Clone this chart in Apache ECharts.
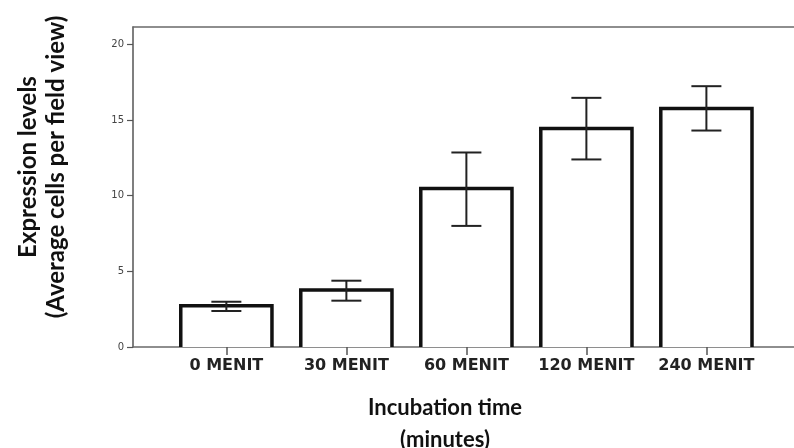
<!DOCTYPE html>
<html><head><meta charset="utf-8">
<script src="https://cdn.jsdelivr.net/npm/echarts@6/dist/echarts.min.js"></script>
<style>html,body{margin:0;padding:0;background:#fff}#c{width:794px;height:448px}</style>
</head><body><div id="c"></div>
<script>
const categories = ['0 MENIT', '30 MENIT', '60 MENIT', '120 MENIT', '240 MENIT'];
const means = [2.73, 3.76, 10.47, 14.43, 15.75];
const errLow = [2.38, 3.06, 8.0, 12.39, 14.30];
const errHigh = [2.99, 4.38, 12.85, 16.46, 17.23];
const yTicks = [0, 5, 10, 15, 20];
const yTitle = 'Expression levels\n(Average cells per field view)';
const xTitle = 'Incubation time\n(minutes)';

const chart = echarts.init(document.getElementById('c'), null, { renderer: 'canvas' });
const catIdx = categories.map((_, i) => i);

const option = {
  animation: false,
  backgroundColor: '#fff',
  grid: { left: 133, right: 0, top: 27, bottom: 101 },
  xAxis: [{
    type: 'value', min: -0.778, max: 4.73,
    axisLine: { show: true, onZero: false, lineStyle: { color: '#6a6a6a', width: 1.5 } },
    axisTick: { show: true, customValues: catIdx, length: 8, lineStyle: { color: '#555', width: 1.5 } },
    axisLabel: { customValues: catIdx, margin: 11, formatter: v => categories[Math.round(v)],
      fontFamily: 'DejaVu Sans', fontWeight: 'bold', fontSize: 16, color: '#222' },
    splitLine: { show: false }
  }, {
    type: 'value', position: 'top', min: -0.778, max: 4.73,
    axisLine: { show: true, onZero: false, lineStyle: { color: '#6a6a6a', width: 1.5 } },
    axisTick: { show: false }, axisLabel: { show: false }, splitLine: { show: false }
  }],
  yAxis: {
    type: 'value', min: 0, max: 21.14,
    axisLine: { show: true, onZero: false, lineStyle: { color: '#555', width: 1.5 } },
    axisTick: { show: true, customValues: yTicks, length: 6, lineStyle: { color: '#555', width: 1.2 } },
    axisLabel: { customValues: yTicks, margin: 9, fontFamily: 'DejaVu Sans', fontSize: 10, color: '#444' },
    splitLine: { show: false }
  },
  series: [{
    type: 'custom',
    data: catIdx.map(i => [i, means[i]]),
    encode: { x: 0, y: 1 },
    z: 3,
    renderItem: function (params, api) {
      const x = api.value(0), y = api.value(1);
      const p0 = api.coord([x, 0]);
      const p1 = api.coord([x, y]);
      const hw = api.size([1, 0])[0] * 0.38;
      const l = p0[0] - hw, r = p0[0] + hw;
      return {
        type: 'group',
        children: [
          { type: 'rect', shape: { x: l, y: p1[1], width: r - l, height: p0[1] - p1[1] }, style: { fill: '#fff' } },
          { type: 'polyline', shape: { points: [[l, p0[1]], [l, p1[1]], [r, p1[1]], [r, p0[1]]] },
            style: { stroke: '#111', lineWidth: 3.5, fill: null } }
        ]
      };
    }
  }, {
    type: 'custom',
    data: catIdx.map(i => [i, errLow[i], errHigh[i]]),
    encode: { x: 0, y: [1, 2] },
    z: 4,
    renderItem: function (params, api) {
      const x = api.value(0);
      const lo = api.coord([x, api.value(1)]);
      const hi = api.coord([x, api.value(2)]);
      const cw = 15;
      const st = { stroke: '#222', lineWidth: 2 };
      return {
        type: 'group',
        children: [
          { type: 'line', shape: { x1: lo[0], y1: lo[1], x2: hi[0], y2: hi[1] }, style: st },
          { type: 'line', shape: { x1: lo[0] - cw, y1: lo[1], x2: lo[0] + cw, y2: lo[1] }, style: st },
          { type: 'line', shape: { x1: hi[0] - cw, y1: hi[1], x2: hi[0] + cw, y2: hi[1] }, style: st }
        ]
      };
    }
  }],
  graphic: [{
    type: 'text', x: 42, y: 167, rotation: Math.PI / 2,
    style: { text: yTitle, font: 'bold 24px Lato', fill: '#111', align: 'center', verticalAlign: 'middle', lineHeight: 28 }
  }, {
    type: 'text', x: 445, y: 424,
    style: { text: xTitle, font: 'bold 22px Lato', fill: '#111', align: 'center', verticalAlign: 'middle', lineHeight: 32 }
  }]
};
chart.setOption(option);
</script>
</body></html>
